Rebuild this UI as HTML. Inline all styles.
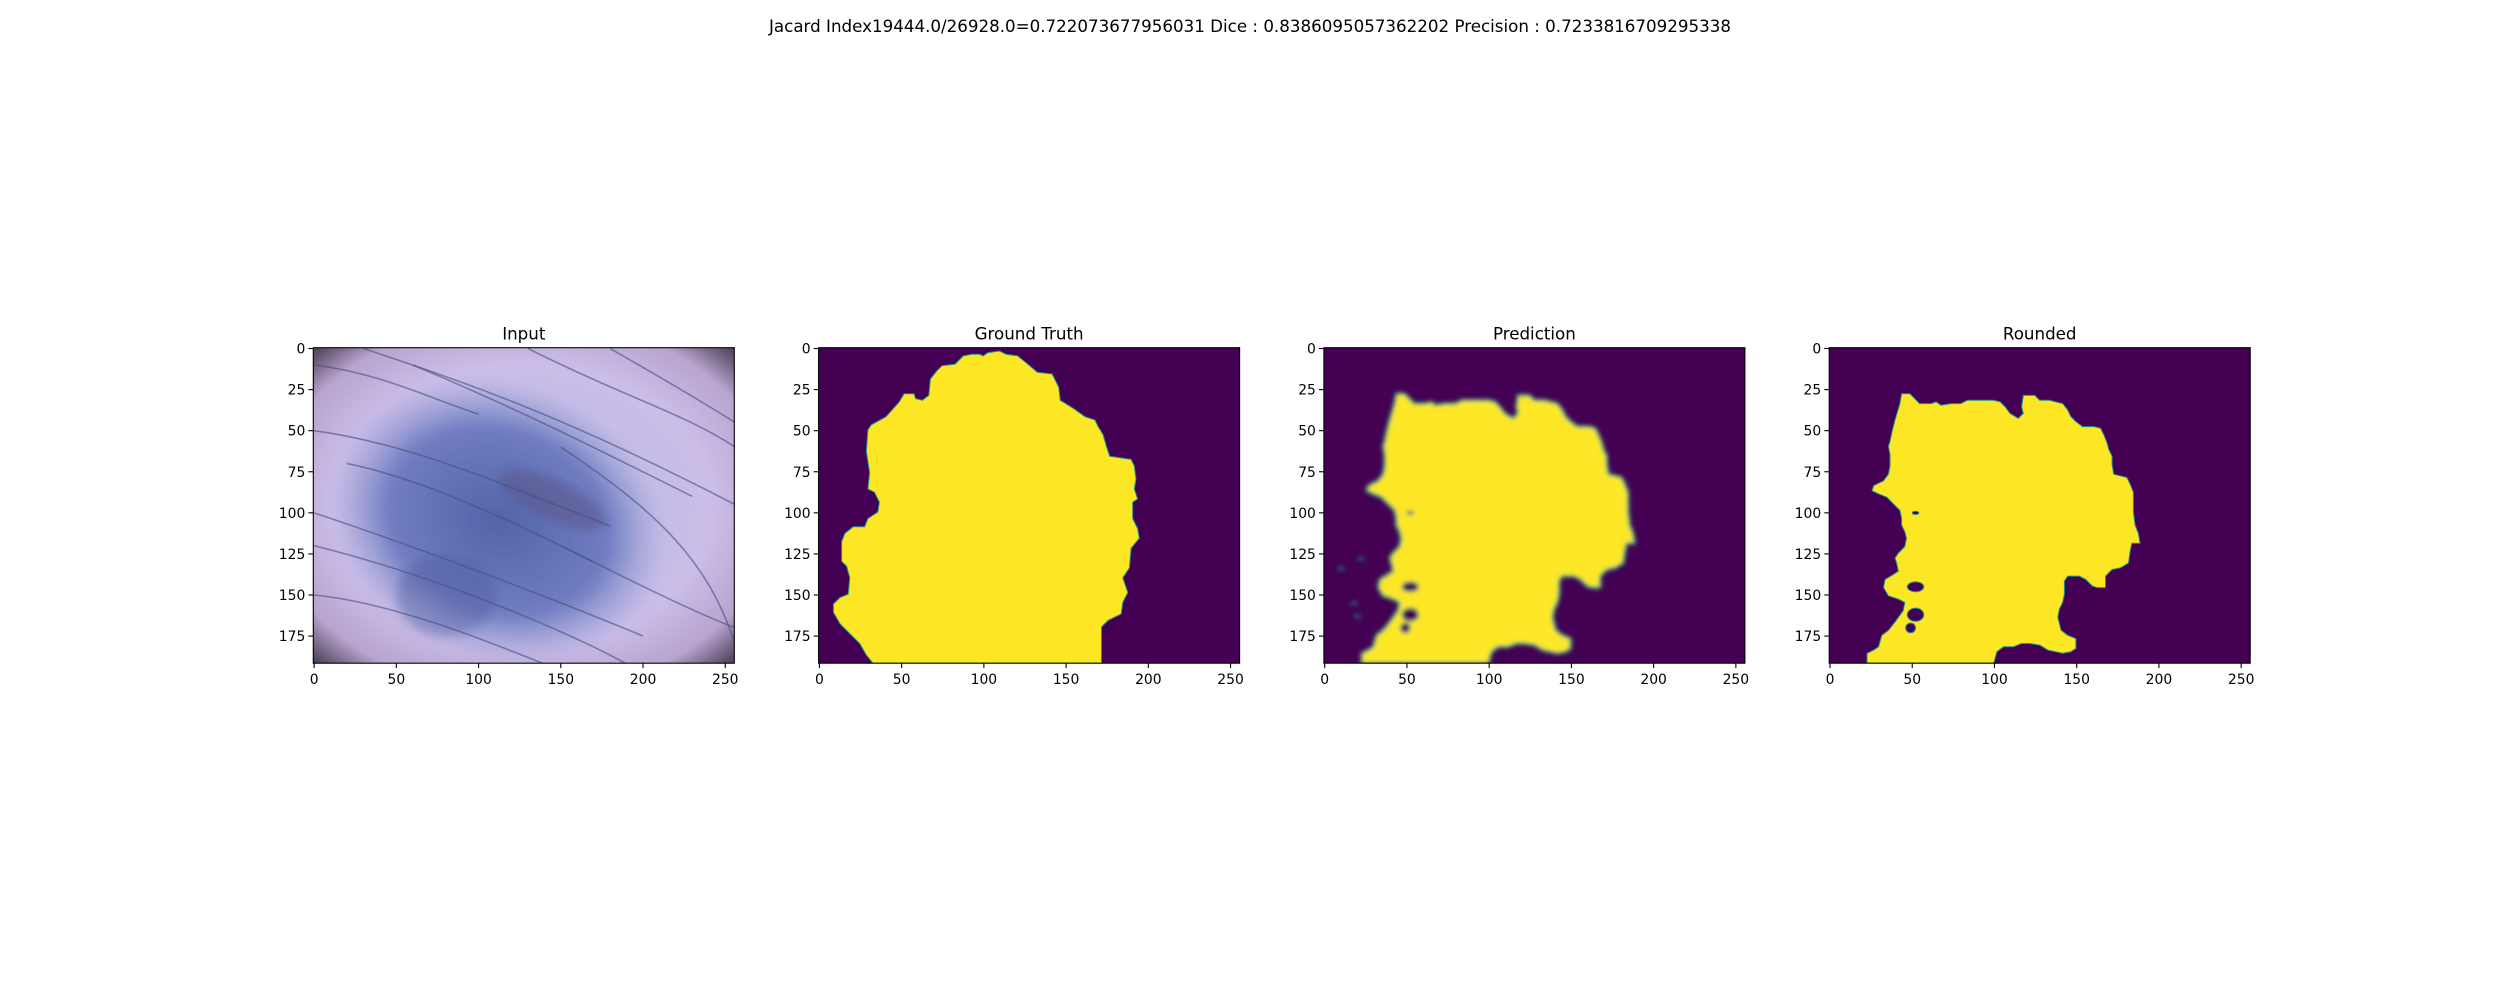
<!DOCTYPE html>
<html><head><meta charset="utf-8"><style>
html,body{margin:0;padding:0;background:#fff;}
svg text{font-family:"DejaVu Sans","Liberation Sans",sans-serif;fill:#000;}
</style></head><body>
<svg id="fig" width="2500" height="1000" viewBox="0 0 2500 1000" xmlns="http://www.w3.org/2000/svg">
<defs>
<radialGradient id="skin" cx="0.5" cy="0.5" r="0.75">
<stop offset="0" stop-color="#b9bde6"/><stop offset="0.6" stop-color="#cbbde8"/><stop offset="0.8" stop-color="#b7a4cf"/><stop offset="0.92" stop-color="#5a4c64"/><stop offset="1" stop-color="#332a38"/>
</radialGradient>
<radialGradient id="lesion" cx="0.5" cy="0.5" r="0.5">
<stop offset="0" stop-color="#5263a8"/><stop offset="0.65" stop-color="#6676bc" stop-opacity="0.9"/><stop offset="1" stop-color="#8a96d0" stop-opacity="0"/>
</radialGradient>
<filter id="blur"><feGaussianBlur stdDeviation="2.2"/></filter>
<filter id="blur2"><feGaussianBlur stdDeviation="5"/></filter>
</defs>
<text x="1250" y="32" font-size="16.7" text-anchor="middle" textLength="962" lengthAdjust="spacingAndGlyphs">Jacard Index19444.0/26928.0=0.722073677956031 Dice : 0.8386095057362202 Precision : 0.7233816709295338</text>
<g id="panels"></g>
</svg>
<script>
const panelTitles = ["Input","Ground Truth","Prediction","Rounded"];
const xTicks = [0,50,100,150,200,250];
const yTicks = [0,25,50,75,100,125,150,175];
const imgW = 256, imgH = 192;
const gtPoly = [[98,4],[100,5],[103,3],[110,2],[114,4],[121,5],[126,9],[133,15],[142,16],[146,24],[147,32],[155,37],[162,42],[168,44],[170,48],[173,53],[175,60],[177,66],[190,68],[192,72],[193,80],[192,86],[194,92],[191,94],[191,104],[194,110],[195,116],[190,122],[189,134],[185,140],[188,149],[185,155],[184,162],[176,166],[172,170],[172,192],[33,192],[29,187],[25,180],[19,174],[13,168],[9,161],[9,156],[13,152],[18,150],[19,140],[17,133],[14,130],[14,118],[16,113],[21,109],[28,109],[30,104],[36,100],[37,94],[34,88],[30,86],[31,76],[29,63],[30,50],[32,47],[41,42],[49,33],[52,28],[58,28],[59,31],[63,32],[67,29],[68,19],[72,14],[75,11],[83,10],[88,5],[93,4]];
const roundPoly = [[44,28],[49,28],[52,31],[55,34],[62,34],[65,33],[68,35],[74,34],[80,34],[84,32],[100,32],[104,33],[107,36],[110,40],[115,43],[118,40],[117,36],[118,29],[125,29],[128,32],[134,32],[142,34],[145,38],[147,42],[150,45],[154,48],[161,48],[165,49],[167,53],[169,58],[170,62],[172,66],[172,71],[173,77],[181,79],[183,83],[185,88],[185,100],[186,108],[188,113],[189,119],[184,119],[183,124],[182,131],[177,134],[172,135],[168,139],[168,146],[163,146],[160,145],[156,141],[152,139],[145,139],[143,142],[143,150],[142,155],[140,159],[139,164],[141,172],[145,175],[150,177],[150,183],[147,185],[142,186],[133,184],[128,181],[122,180],[117,180],[112,182],[106,182],[102,185],[100,192],[23,192],[23,186],[27,184],[30,182],[32,175],[36,172],[40,167],[45,160],[46,155],[42,153],[36,151],[33,146],[34,141],[39,138],[42,136],[41,131],[40,128],[42,125],[46,121],[47,116],[46,112],[44,108],[44,104],[43,99],[38,94],[35,91],[30,89],[26,87],[27,84],[33,81],[36,77],[37,72],[37,65],[36,60],[37,57],[38,52],[40,44],[43,34]];
const holes = [[52,100,2,1],[52,145,5,3],[52,162,5,4],[49,170,3,3]];
const hairs = [[[0,50],[60,58],[120,85],[180,108]],[[0,150],[50,155],[110,180],[140,192]],[[30,0],[90,20],[150,40],[256,95]],[[130,0],[190,30],[226,40],[256,60]],[[0,100],[60,120],[140,150],[200,175]],[[150,60],[210,100],[240,130],[256,180]],[[60,10],[120,35],[170,60],[230,90]],[[0,120],[80,140],[160,175],[190,192]],[[180,0],[215,20],[240,35],[256,45]],[[20,70],[70,80],[130,110],[170,130]],[[0,10],[40,15],[70,30],[100,40]],[[150,120],[190,140],[230,160],[256,170]]];

const NS="http://www.w3.org/2000/svg";
const root=document.getElementById('panels');
const AX_L=313.3, AX_STEP=505.3, AX_T=347.7, AX_W=421, AX_H=315.5;
function mk(t,a,p){const e=document.createElementNS(NS,t);for(const k in a)e.setAttribute(k,a[k]);(p||root).appendChild(e);return e;}
function sx(i,x){return AX_L+AX_STEP*i+(x+0.5)*AX_W/imgW;}
function sy(y){return AX_T+(y+0.5)*AX_H/imgH;}
function polyStr(i,pts){return pts.map(p=>sx(i,p[0]-0.5).toFixed(1)+','+sy(p[1]-0.5).toFixed(1)).join(' ');}

panelTitles.forEach((title,i)=>{
  const g=mk('g',{});
  
  
  const L=AX_L+AX_STEP*i;
  const clip=mk('clipPath',{id:'c'+i},g);
  mk('rect',{x:L,y:AX_T,width:AX_W,height:AX_H},clip);
  const img=mk('g',{'clip-path':'url(#c'+i+')'},g);
  
  
  if(i===0){
    mk('rect',{x:L,y:AX_T,width:AX_W,height:AX_H,fill:'url(#skin)'},img);
    const les=mk('ellipse',{cx:sx(0,112),cy:sy(105),rx:105*AX_W/imgW,ry:85*AX_H/imgH,fill:'url(#lesion)',filter:'url(#blur2)',transform:'rotate(20 '+sx(0,112)+' '+sy(105)+')'},img);
    
    
    mk('ellipse',{cx:sx(0,145),cy:sy(92),rx:35*AX_W/imgW,ry:12*AX_H/imgH,fill:'#5a4f80',opacity:0.45,filter:'url(#blur2)',transform:'rotate(25 '+sx(0,145)+' '+sy(92)+')'},img);
    mk('ellipse',{cx:sx(0,80),cy:sy(150),rx:30*AX_W/imgW,ry:25*AX_H/imgH,fill:'#4e5c9e',opacity:0.4,filter:'url(#blur2)'},img);
    hairs.forEach(h=>{
      const d='M'+sx(0,h[0][0])+','+sy(h[0][1])+' C'+h.slice(1).map(p=>sx(0,p[0])+','+sy(p[1])).join(' ');
      const hp=mk('path',{d:d,fill:'none',stroke:'#4a4f80',"stroke-width":1.6,opacity:0.6},img);
      
      
    });
  } else {
    mk('rect',{x:L,y:AX_T,width:AX_W,height:AX_H,fill:'#440154'},img);
    const pts=i===1?gtPoly:roundPoly;
    const blurred=i===2;
    const m=mk('g',blurred?{filter:'url(#blur)'}:{},img);
    const pg=mk('polygon',{points:polyStr(i,pts),fill:'#fde725',stroke:blurred?'#35b779':'#21918c','stroke-width':blurred?2.5:1,'stroke-linejoin':'round'},m);
    
    
    if(i>1){holes.forEach(hh=>{
      const e=mk('ellipse',{cx:sx(i,hh[0]),cy:sy(hh[1]),rx:hh[2]*AX_W/imgW,ry:hh[3]*AX_H/imgH,fill:'#440154',stroke:'#21918c','stroke-width':1},m);
      
      
    });}
    if(blurred){
      [[10,134],[22,128],[18,155],[20,163]].forEach(b=>{
        const e=mk('ellipse',{cx:sx(i,b[0]),cy:sy(b[1]),rx:4,ry:2,fill:'#21918c',opacity:0.6},m);
        
        
      });
    }
  }
  mk('rect',{x:L,y:AX_T,width:AX_W,height:AX_H,fill:'none',stroke:'#000','stroke-width':1.1},g);
  const tt=mk('text',{x:L+AX_W/2,y:AX_T-8,'font-size':16.7,'text-anchor':'middle'},g);
  tt.textContent=title;
  
  
  xTicks.forEach(v=>{
    const x=sx(i,v);
    mk('line',{x1:x,x2:x,y1:AX_T+AX_H,y2:AX_T+AX_H+4.9,stroke:'#000','stroke-width':1.1},g);
    const t=mk('text',{x:x,y:AX_T+AX_H+21,'font-size':13.9,'text-anchor':'middle'},g);
    t.textContent=v;
    
    
  });
  yTicks.forEach(v=>{
    const y=sy(v);
    mk('line',{x1:L,x2:L-4.9,y1:y,y2:y,stroke:'#000','stroke-width':1.1},g);
    const t=mk('text',{x:L-8,y:y+5,'font-size':13.9,'text-anchor':'end'},g);
    t.textContent=v;
    
    
  });
});
</script>
</body></html>
